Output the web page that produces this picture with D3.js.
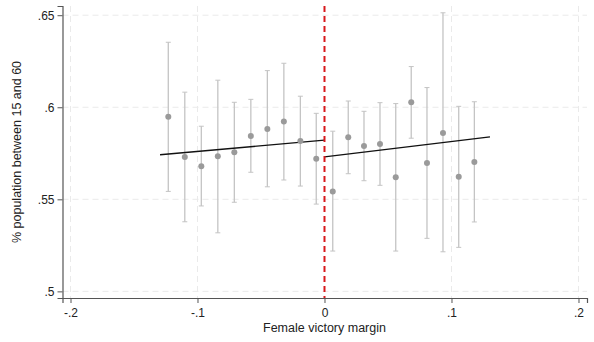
<!DOCTYPE html>
<html>
<head>
<meta charset="utf-8">
<script src="https://cdn.jsdelivr.net/npm/d3@7"></script>
<style>
  body { margin: 0; background: #fff; }
  text { font-family: "Liberation Sans", Arial, sans-serif; }
</style>
</head>
<body>
<div id="chart"></div>
<script>
// binned means with 95% CI
var binX   = [-0.123, -0.110, -0.097, -0.084, -0.071, -0.058, -0.045, -0.032, -0.019, -0.0065,
               0.0065, 0.0187, 0.0311, 0.0437, 0.0561, 0.0683, 0.0807, 0.0933, 0.1057, 0.118];
var binMean = [0.5949, 0.5730, 0.5679, 0.5734, 0.5755, 0.5844, 0.5882, 0.5922, 0.5817, 0.5721,
               0.5543, 0.5837, 0.5790, 0.5800, 0.5620, 0.6027, 0.5697, 0.5860, 0.5623, 0.5703];
var ciHigh = [0.6353, 0.6082, 0.5897, 0.6147, 0.6027, 0.6043, 0.6199, 0.6239, 0.6060, 0.5967,
              0.5870, 0.6034, 0.5978, 0.6025, 0.6020, 0.6221, 0.6107, 0.6513, 0.6005, 0.6030];
var ciLow  = [0.5543, 0.5378, 0.5464, 0.5318, 0.5484, 0.5647, 0.5568, 0.5605, 0.5572, 0.5474,
              0.5219, 0.5639, 0.5601, 0.5576, 0.5219, 0.5832, 0.5288, 0.5215, 0.5239, 0.5377];

// linear fits on each side of the cutoff
var fitLeft  = [[-0.1295, 0.5742], [0, 0.5821]];
var fitRight = [[0, 0.5730], [0.1303, 0.5839]];

var xTicks = [-0.2, -0.1, 0, 0.1, 0.2];
var yTicks = [0.5, 0.55, 0.6, 0.65];

var W = 594, H = 342;
var margin = { top: 6, right: 7, bottom: 44, left: 62.5 };
var width = W - margin.left - margin.right,
    height = H - margin.top - margin.bottom;

var svg = d3.select("#chart").append("svg")
    .attr("width", W)
    .attr("height", H);

var g = svg.append("g")
    .attr("transform", "translate(" + margin.left + "," + margin.top + ")");

var x = d3.scaleLinear().domain([-0.2063, 0.2067]).range([0, width]);
var y = d3.scaleLinear().domain([0.4964, 0.655]).range([height, 0]);

// stata style labels: no leading zero, plain hyphen
function fmt(v) {
    if (v == 0) return "0";
    var s = String(+v.toFixed(2));
    return s.replace("0.", ".");
}

// grid
g.selectAll(".hgrid").data(yTicks).enter().append("line")
    .attr("x1", 0).attr("x2", width)
    .attr("y1", function(d) { return y(d); }).attr("y2", function(d) { return y(d); })
    .style("stroke", "#eaeaea").style("stroke-width", 1)
    .style("stroke-dasharray", "6,4");

g.selectAll(".vgrid").data(xTicks).enter().append("line")
    .attr("y1", 0).attr("y2", height)
    .attr("x1", function(d) { return x(d); }).attr("x2", function(d) { return x(d); })
    .style("stroke", "#eaeaea").style("stroke-width", 1)
    .style("stroke-dasharray", "6,4");

// error bars
var bars = g.selectAll(".ci").data(binX).enter().append("g");
bars.append("line")
    .attr("x1", function(d) { return x(d); }).attr("x2", function(d) { return x(d); })
    .attr("y1", function(d, i) { return y(ciLow[i]); })
    .attr("y2", function(d, i) { return y(ciHigh[i]); })
    .style("stroke", "#c4c4c4").style("stroke-width", 1.3);
bars.append("line")
    .attr("x1", function(d) { return x(d) - 2.5; }).attr("x2", function(d) { return x(d) + 2.5; })
    .attr("y1", function(d, i) { return y(ciHigh[i]); })
    .attr("y2", function(d, i) { return y(ciHigh[i]); })
    .style("stroke", "#c4c4c4").style("stroke-width", 1);
bars.append("line")
    .attr("x1", function(d) { return x(d) - 2.5; }).attr("x2", function(d) { return x(d) + 2.5; })
    .attr("y1", function(d, i) { return y(ciLow[i]); })
    .attr("y2", function(d, i) { return y(ciLow[i]); })
    .style("stroke", "#c4c4c4").style("stroke-width", 1);

// fit lines
var line = d3.line()
    .x(function(d) { return x(d[0]); })
    .y(function(d) { return y(d[1]); });
[fitLeft, fitRight].forEach(function(f) {
    g.append("path").datum(f)
        .attr("d", line)
        .style("fill", "none").style("stroke", "#111").style("stroke-width", 1.3);
});

// points
g.selectAll(".pt").data(binX).enter().append("circle")
    .attr("cx", function(d) { return x(d); })
    .attr("cy", function(d, i) { return y(binMean[i]); })
    .attr("r", 3)
    .style("fill", "#9a9a9a");

// cutoff
g.append("line")
    .attr("x1", x(0)).attr("x2", x(0))
    .attr("y1", 0).attr("y2", height)
    .style("stroke", "#d7191c").style("stroke-width", 2)
    .style("stroke-dasharray", "6,4");

// axes
var xAxis = g.append("g")
    .attr("transform", "translate(0," + height + ")")
    .call(d3.axisBottom(x).tickValues(xTicks).tickFormat(fmt).tickSizeOuter(0).tickSize(5));
var yAxis = g.append("g")
    .call(d3.axisLeft(y).tickValues(yTicks).tickFormat(fmt).tickSizeOuter(0).tickSize(5));

[xAxis, yAxis].forEach(function(a) {
    a.select(".domain").style("stroke", "#555").style("stroke-width", 1.2);
    a.selectAll(".tick line").style("stroke", "#555");
    a.selectAll(".tick text").style("font-size", "12px").style("fill", "#222")
        .style("font-family", "'Liberation Sans', Arial, sans-serif");
});
xAxis.selectAll(".tick text").attr("dy", "0.9em");

// axis titles
svg.append("text")
    .attr("x", margin.left + x(0))
    .attr("y", 332)
    .attr("text-anchor", "middle")
    .style("font-size", "12.5px").style("fill", "#222")
    .text("Female victory margin");

svg.append("text")
    .attr("transform", "translate(21," + (margin.top + height / 2) + ") rotate(-90)")
    .attr("text-anchor", "middle")
    .style("font-size", "12.5px").style("fill", "#222")
    .text("% population between 15 and 60");
</script>
</body>
</html>
